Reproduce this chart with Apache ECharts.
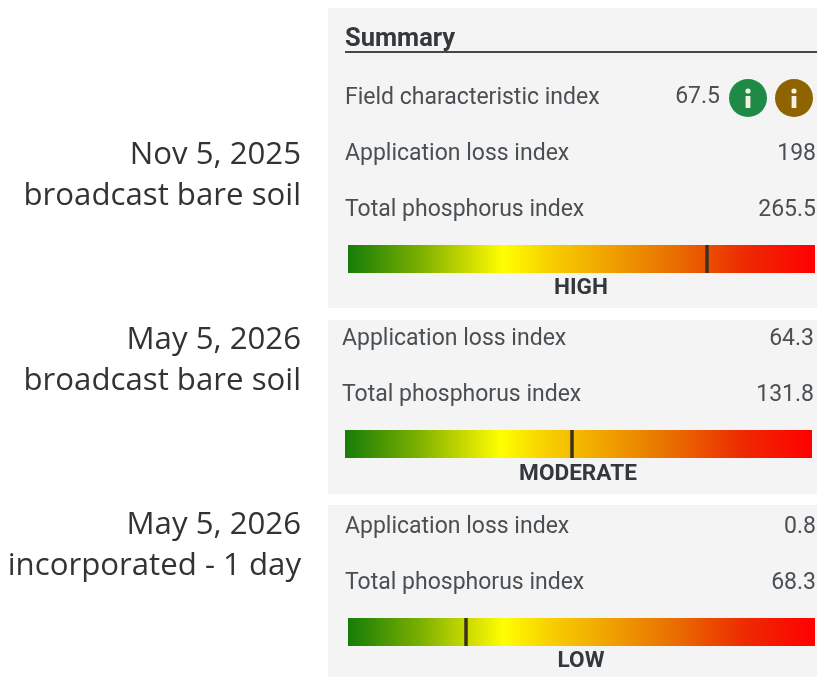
<!DOCTYPE html>
<html>
<head>
<meta charset="utf-8">
<style>
  html, body { margin: 0; padding: 0; background: #fff; }
  #chart { width: 817px; height: 677px; }
</style>
<script src="https://cdn.jsdelivr.net/npm/echarts@6/dist/echarts.min.js"></script>
</head>
<body>
<div id="chart"></div>
<script>
const dates = ['Nov 5, 2025', 'May 5, 2026', 'May 5, 2026']
const practices = ['broadcast bare soil', 'broadcast bare soil', 'incorporated - 1 day']
const fieldIndexLabel = 'Field characteristic index'
const fieldIndex = '67.5'
const lossIndex = ['198', '64.3', '0.8']
const totalIndex = ['265.5', '131.8', '68.3']
const ratings = ['HIGH', 'MODERATE', 'LOW']
// marker position along each colour bar, percent of the bar length
const markerPos = [76.9, 48.6, 25.3]
const scaleFull = [100, 100, 100]

// layout of the three panels
const panels = [
  { y: 8, h: 300, labelX: 345, right: 816, lossY: 154, totalY: 210, barX: 348, barY: 245, ratingX: 581, ratingY: 288, dateY: 155, practiceY: 196 },
  { y: 320, h: 174, labelX: 342, right: 814, lossY: 339, totalY: 395, barX: 345, barY: 430, ratingX: 578, ratingY: 474, dateY: 340, practiceY: 381 },
  { y: 505, h: 172, labelX: 345, right: 816, lossY: 527, totalY: 583, barX: 348, barY: 618, ratingX: 581, ratingY: 661, dateY: 525, practiceY: 566 }
]
const barW = 467
const barH = 28
const textColor = '#4a4f54'
const darkColor = '#33383c'
const rowFont = '400 23px Roboto'
const sideFont = '400 31.2px "Open Sans"'

const barGradient = new echarts.graphic.LinearGradient(0, 0, 1, 0, [
  { offset: 0, color: '#167c08' },
  { offset: 0.15, color: '#78ae00' },
  { offset: 0.27, color: '#d4e000' },
  { offset: 0.334, color: '#ffff00' },
  { offset: 0.42, color: '#f8d400' },
  { offset: 0.7, color: '#e86e00' },
  { offset: 0.85, color: '#ee2a00' },
  { offset: 1, color: '#ff0000' }
])

function txt(x, y, text, font, fill, align) {
  return { type: 'text', x: x, y: y, z: 5, style: { text: text, font: font, fill: fill, align: align || 'left', verticalAlign: 'middle' } }
}

function infoIcon(cx, cy, color) {
  return [
    { type: 'circle', z: 5, shape: { cx: cx, cy: cy, r: 19 }, style: { fill: color } },
    { type: 'circle', z: 6, shape: { cx: cx, cy: cy - 7, r: 2.6 }, style: { fill: '#f4f1e4' } },
    { type: 'rect', z: 6, shape: { x: cx - 2.4, y: cy - 2, width: 4.8, height: 12 }, style: { fill: '#f4f1e4' } }
  ]
}

let elements = []
panels.forEach((p, i) => {
  elements.push({ type: 'rect', z: 0, shape: { x: 328, y: p.y, width: 489, height: p.h }, style: { fill: '#f4f4f4' } })
  elements.push(txt(301, p.dateY, dates[i], sideFont, '#333333', 'right'))
  elements.push(txt(301, p.practiceY, practices[i], sideFont, '#333333', 'right'))
  elements.push(txt(p.labelX, p.lossY, 'Application loss index', rowFont, textColor))
  elements.push(txt(p.right, p.lossY, lossIndex[i], rowFont, textColor, 'right'))
  elements.push(txt(p.labelX, p.totalY, 'Total phosphorus index', rowFont, textColor))
  elements.push(txt(p.right, p.totalY, totalIndex[i], rowFont, textColor, 'right'))
  elements.push(txt(p.ratingX, p.ratingY, ratings[i], '700 22.6px Roboto', darkColor, 'center'))
})
elements.push(txt(345, 40, 'Summary', '700 25.5px Roboto', darkColor))
elements.push({ type: 'rect', z: 5, shape: { x: 345, y: 51, width: 472, height: 2 }, style: { fill: '#44484c' } })
elements.push(txt(345, 98, fieldIndexLabel, rowFont, textColor))
elements.push(txt(720, 97, fieldIndex, rowFont, textColor, 'right'))
elements = elements.concat(infoIcon(748, 98, '#1f8a46'), infoIcon(794, 98, '#8f6400'))

const grids = panels.map(p => ({ left: p.barX, top: p.barY, width: barW, height: barH }))
const xAxes = panels.map((p, i) => ({ gridIndex: i, type: 'value', min: 0, max: 100, show: false }))
const yAxes = panels.map((p, i) => ({ gridIndex: i, type: 'category', data: [ratings[i]], show: false }))
const series = panels.map((p, i) => ({
  type: 'bar',
  xAxisIndex: i,
  yAxisIndex: i,
  barWidth: '100%',
  silent: true,
  z: 3,
  data: [scaleFull[i]],
  itemStyle: { color: barGradient },
  markLine: {
    silent: true,
    symbol: 'none',
    animation: false,
    label: { show: false },
    lineStyle: { color: '#3c3020', width: 3.5, type: 'solid' },
    data: [{ xAxis: markerPos[i] }]
  }
}))

const chart = echarts.init(document.getElementById('chart'), null, { renderer: 'canvas' })
chart.setOption({
  animation: false,
  backgroundColor: '#ffffff',
  grid: grids,
  xAxis: xAxes,
  yAxis: yAxes,
  series: series,
  graphic: { elements: elements }
})
</script>
</body>
</html>
